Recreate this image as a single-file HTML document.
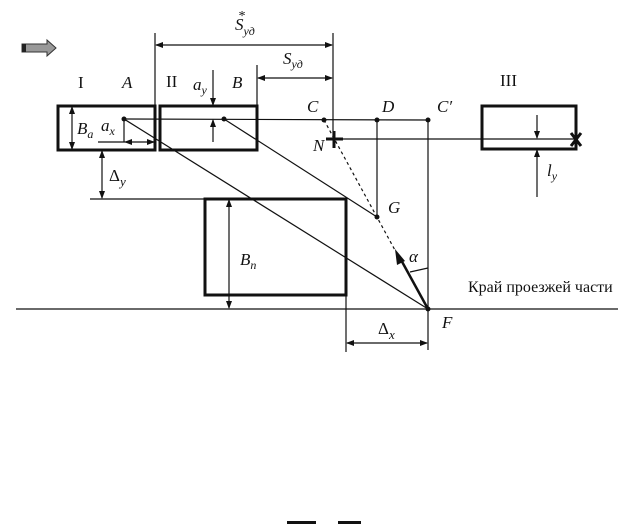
<!DOCTYPE html>
<html><head><meta charset="utf-8"><style>
html,body{margin:0;padding:0;background:#fff;}
svg{display:block;}
text{font-family:"Liberation Serif",serif;fill:#111;}
.i{font-style:italic;}
</style></head><body>
<svg width="636" height="524" viewBox="0 0 636 524" xmlns="http://www.w3.org/2000/svg">
<defs>
<marker id="ar" markerWidth="8" markerHeight="8" refX="7" refY="4" orient="auto-start-reverse" markerUnits="userSpaceOnUse">
<path d="M0,1 L8,4 L0,7 Z" fill="#111"/></marker>
</defs>
<g stroke="#111" fill="none">
<rect x="58" y="106" width="97" height="44" stroke-width="3"/>
<rect x="160" y="106" width="97" height="44" stroke-width="3"/>
<rect x="205" y="199" width="141" height="96" stroke-width="3"/>
<rect x="482" y="106" width="94" height="43" stroke-width="3"/>
<g stroke-width="1.2">
<line x1="155" y1="33" x2="155" y2="106"/>
<line x1="257" y1="65" x2="257" y2="106"/>
<line x1="333" y1="33" x2="333" y2="140"/>
<line x1="428" y1="120" x2="428" y2="350"/>
<line x1="156" y1="45" x2="332" y2="45" marker-start="url(#ar)" marker-end="url(#ar)"/>
<line x1="258" y1="78" x2="332" y2="78" marker-start="url(#ar)" marker-end="url(#ar)"/>
<line x1="124" y1="119" x2="428" y2="120"/>
<line x1="334" y1="139" x2="578" y2="139"/>
<line x1="377" y1="120" x2="377" y2="217"/>
<line x1="124" y1="119" x2="428" y2="309"/>
<line x1="224" y1="119" x2="377" y2="217"/>
<line x1="324" y1="120" x2="396" y2="252" stroke-dasharray="3,3"/>
<line x1="16" y1="309" x2="618" y2="309"/>
<line x1="90" y1="199" x2="205" y2="199"/>
<line x1="102" y1="151" x2="102" y2="198" marker-start="url(#ar)" marker-end="url(#ar)"/>
<line x1="72" y1="107" x2="72" y2="149" marker-start="url(#ar)" marker-end="url(#ar)"/>
<line x1="98" y1="142" x2="125" y2="142"/>
<line x1="124" y1="119" x2="124" y2="142"/>
<line x1="125" y1="142" x2="154" y2="142" marker-start="url(#ar)" marker-end="url(#ar)"/>
<line x1="213" y1="70" x2="213" y2="105" marker-end="url(#ar)"/>
<line x1="213" y1="142" x2="213" y2="120" marker-end="url(#ar)"/>
<line x1="229" y1="200" x2="229" y2="308" marker-start="url(#ar)" marker-end="url(#ar)"/>
<line x1="346" y1="295" x2="346" y2="352"/>
<line x1="347" y1="343" x2="427" y2="343" marker-start="url(#ar)" marker-end="url(#ar)"/>
<line x1="537" y1="115" x2="537" y2="138" marker-end="url(#ar)"/>
<line x1="537" y1="197" x2="537" y2="150" marker-end="url(#ar)"/>
<path d="M410,272 L428,268"/>
</g>
<line x1="428" y1="309" x2="400" y2="258" stroke-width="2.5"/>
<path d="M395,249 L405,261 L397,265 Z" fill="#111" stroke="none"/>
<g stroke-width="3"><line x1="326" y1="139" x2="343" y2="139"/><line x1="334" y1="131" x2="334" y2="148"/></g>
<g stroke-width="3"><line x1="571" y1="133" x2="581" y2="146"/><line x1="581" y1="133" x2="571" y2="146"/></g>
</g>
<g fill="#111">
<circle cx="124" cy="119" r="2.5"/><circle cx="224" cy="119" r="2.5"/>
<circle cx="324" cy="120" r="2.5"/><circle cx="377" cy="120" r="2.5"/>
<circle cx="428" cy="120" r="2.5"/><circle cx="377" cy="217" r="2.5"/>
<circle cx="428" cy="309" r="2.5"/>
</g>
<path d="M22,44 L47,44 L47,40 L56,48 L47,56 L47,52 L22,52 Z" fill="#999" stroke="#333" stroke-width="1"/>
<rect x="22" y="44" width="4" height="8" fill="#222"/>
<text x="78" y="88" font-size="17">I</text>
<text x="122" y="88" font-size="17" class="i">A</text>
<text x="166" y="87" font-size="17">II</text>
<text x="232" y="88" font-size="17" class="i">B</text>
<text x="500" y="86" font-size="17">III</text>
<text x="193" y="90" font-size="17" class="i">a<tspan font-size="12" dy="4">y</tspan></text>
<text x="235" y="30" font-size="17" class="i">S<tspan font-size="12" dy="5">уд</tspan><tspan font-size="14" dx="-17" dy="-15">*</tspan></text>
<text x="283" y="64" font-size="17" class="i">S<tspan font-size="12" dy="4">уд</tspan></text>
<text x="307" y="112" font-size="17" class="i">C</text>
<text x="382" y="112" font-size="17" class="i">D</text>
<text x="437" y="112" font-size="17" class="i">C′</text>
<text x="313" y="151" font-size="17" class="i">N</text>
<text x="388" y="213" font-size="17" class="i">G</text>
<text x="409" y="262" font-size="17" class="i">α</text>
<text x="442" y="328" font-size="17" class="i">F</text>
<text x="77" y="134" font-size="17" class="i">B<tspan font-size="12" dy="4">a</tspan></text>
<text x="101" y="131" font-size="17" class="i">a<tspan font-size="12" dy="4">x</tspan></text>
<text x="109" y="181" font-size="17">Δ<tspan font-size="13" class="i" dy="5">y</tspan></text>
<text x="240" y="265" font-size="17" class="i">B<tspan font-size="12" dy="4">n</tspan></text>
<text x="378" y="334" font-size="17">Δ<tspan font-size="13" class="i" dy="5">x</tspan></text>
<text x="547" y="176" font-size="17" class="i">l<tspan font-size="12" dy="4">y</tspan></text>
<text x="468" y="292" font-size="16">Край проезжей части</text>
<rect x="287" y="521" width="29" height="3" fill="#111"/>
<rect x="338" y="521" width="23" height="3" fill="#111"/>
</svg>
</body></html>
